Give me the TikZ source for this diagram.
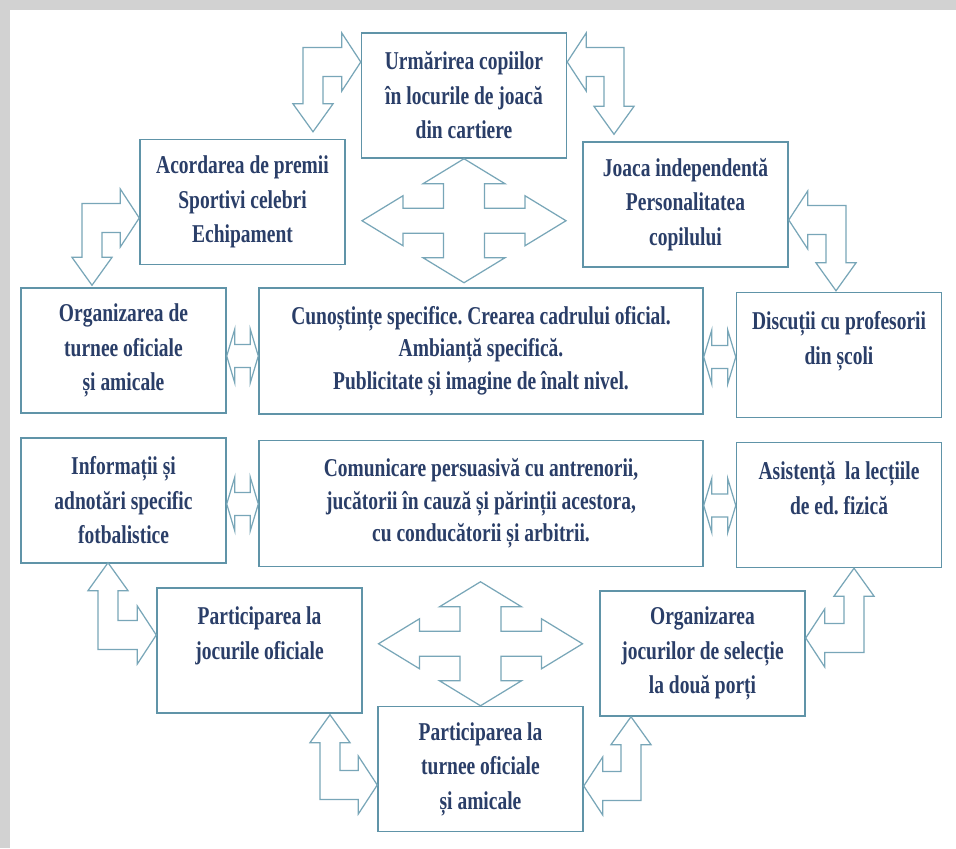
\documentclass[tikz,border=0pt]{standalone}
\usepackage{fontspec}
\setmainfont{Liberation Serif}[FakeStretch=0.76]
\usetikzlibrary{calc}
\frenchspacing

\definecolor{boxline}{RGB}{96,148,168}
\definecolor{arrowline}{RGB}{120,166,184}
\definecolor{boxtext}{RGB}{42,62,104}

% elbow arrow sizes
\def\ewx{5.7pt}\def\ewy{8.2pt}
\def\ehx{11.4pt}\def\ehy{16.5pt}
\def\elx{10.8pt}\def\ely{15.9pt}
% straight double arrow sizes
\def\hw{6.5pt}\def\hh{15.4pt}\def\hl{4.6pt}

\newcommand\elbowarrow[4]{%
	\draw[blockarrow] let \p1=(#1), \p2=(#2) in
		({\x2-(#3)*\ewx},{\y1-(#4)*\ewy}) -- ({\x1-(#3)*\elx},{\y1-(#4)*\ewy})
		-- ({\x1-(#3)*\elx},{\y1-(#4)*\ehy}) -- (\x1,\y1)
		-- ({\x1-(#3)*\elx},{\y1+(#4)*\ehy}) -- ({\x1-(#3)*\elx},{\y1+(#4)*\ewy})
		-- ({\x2+(#3)*\ewx},{\y1+(#4)*\ewy}) -- ({\x2+(#3)*\ewx},{\y2-(#4)*\ely})
		-- ({\x2+(#3)*\ehx},{\y2-(#4)*\ely}) -- (\x2,\y2)
		-- ({\x2-(#3)*\ehx},{\y2-(#4)*\ely}) -- ({\x2-(#3)*\ewx},{\y2-(#4)*\ely})
		-- cycle;
}
\newcommand\hdarrow[2]{%
	\draw[blockarrow] let \p1=(#1), \p2=(#2) in
		(\x1,\y1) -- ({\x1+\hl},{\y1+\hh}) -- ({\x1+\hl},{\y1+\hw})
		-- ({\x2-\hl},{\y1+\hw}) -- ({\x2-\hl},{\y1+\hh}) -- (\x2,\y1)
		-- ({\x2-\hl},{\y1-\hh}) -- ({\x2-\hl},{\y1-\hw})
		-- ({\x1+\hl},{\y1-\hw}) -- ({\x1+\hl},{\y1-\hh}) -- cycle;
}
\newcommand\crossarrow[1]{%
	\draw[blockarrow,shift={(#1)}]
		(0,-62) -- (41,-37) -- (20.5,-37) -- (20.5,-12.5) -- (61,-12.5) -- (61,-25)
		-- (102,0) -- (61,25) -- (61,12.5) -- (20.5,12.5) -- (20.5,37) -- (41,37)
		-- (0,62) -- (-41,37) -- (-20.5,37) -- (-20.5,12.5) -- (-61,12.5) -- (-61,25)
		-- (-102,0) -- (-61,-25) -- (-61,-12.5) -- (-20.5,-12.5) -- (-20.5,-37) -- (-41,-37)
		-- cycle;
}

\begin{document}
\begin{tikzpicture}[
		x=0.02cm, y=-0.02cm,
		box/.style={draw=boxline, line width=0.85pt, align=center, text=boxtext,
				minimum width=4.1cm, minimum height=2.5cm, inner sep=0pt,
				font=\bfseries\fontsize{14.6}{19.6}\selectfont},
		widebox/.style={box, minimum width=8.88cm, minimum height=2.52cm,
				font=\bfseries\fontsize{14.6}{18.6}\selectfont},
		blockarrow/.style={draw=arrowline, line width=0.7pt, line join=miter}
	]
	\useasboundingbox (0,0) rectangle (956,848);
	\fill[gray!35] (0,0) rectangle (956,848);
	\fill[white] (10,10) rectangle (956,848);

	\node[box] (urm) at (464,95.5) {Urmărirea copiilor\\în locurile de joacă\\din cartiere};
	\node[box] (acord) at (242.5,202) {Acordarea de premii\\Sportivi celebri\\Echipament};
	\node[box] (joaca) at (685.5,204.5) {Joaca independentă\\Personalitatea\\copilului};
	\node[box] (org) at (123.5,350.5) {Organizarea de\\turnee oficiale\\și amicale};
	\node[widebox] (cen1) at (481,351) {Cunoștințe specifice. Crearea cadrului oficial.\\Ambianță specifică.\\Publicitate și imagine de înalt nivel.};
	\node[box] (disc) at (839,355) {Discuții cu profesorii\\din școli\\\mbox{}};
	\node[box] (info) at (123.5,500.5) {Informații și\\adnotări specific\\fotbalistice};
	\node[widebox] (cen2) at (481,503.5) {Comunicare persuasivă cu antrenorii,\\jucătorii în cauză și părinții acestora,\\cu conducătorii și arbitrii.};
	\node[box] (asist) at (839,505) {Asistență~ la lecțiile\\de ed. fizică\\\mbox{}};
	\node[box] (part) at (259.5,650.5) {Participarea la\\jocurile oficiale\\\mbox{}};
	\node[box] (turn) at (480.5,769) {Participarea la\\turnee oficiale\\și amicale};
	\node[box] (sel) at (702.5,653.5) {Organizarea\\jocurilor de selecție\\la două porți};

	\coordinate (e1a) at ($(urm.west)+(0,-33.5)$);
	\coordinate (e1b) at ($(acord.north)+(70.5,-7)$);
	\coordinate (e2a) at ($(urm.east)+(0,-33.5)$);
	\coordinate (e2b) at ($(joaca.north)+(-71.5,-7)$);
	\coordinate (e3a) at ($(acord.west)+(0,16)$);
	\coordinate (e3b) at ($(org.north)+(-31.5,-2)$);
	\coordinate (e4a) at ($(joaca.east)+(0,15.5)$);
	\coordinate (e4b) at ($(disc.north)+(-3,-1)$);
	\coordinate (e5a) at ($(part.west)+(0,-15.5)$);
	\coordinate (e5b) at ($(info.south)+(-15.5,-1)$);
	\coordinate (e6a) at ($(turn.west)+(0,16)$);
	\coordinate (e6b) at ($(part.south)+(70.5,1)$);
	\coordinate (e7a) at ($(turn.east)+(0,17)$);
	\coordinate (e7b) at ($(sel.south)+(-71.5,0)$);
	\coordinate (e8a) at ($(sel.east)+(0,-15.5)$);
	\coordinate (e8b) at ($(asist.south)+(15,0)$);

	\elbowarrow{e1a}{e1b}{1}{-1}
	\elbowarrow{e2a}{e2b}{-1}{-1}
	\elbowarrow{e3a}{e3b}{1}{-1}
	\elbowarrow{e4a}{e4b}{-1}{-1}
	\elbowarrow{e5a}{e5b}{1}{1}
	\elbowarrow{e6a}{e6b}{1}{1}
	\elbowarrow{e7a}{e7b}{-1}{1}
	\elbowarrow{e8a}{e8b}{-1}{1}

	\coordinate (h1) at ($(org.east)+(0,5.5)$);
	\coordinate (h2) at ($(cen1.east)+(0,6)$);
	\coordinate (h3) at ($(info.east)+(0,3.5)$);
	\coordinate (h4) at ($(cen2.east)+(0,2)$);
	\hdarrow{h1}{cen1.west}
	\hdarrow{h2}{disc.west}
	\hdarrow{h3}{cen2.west}
	\hdarrow{h4}{asist.west}

	\coordinate (x1) at ($(urm.south)+(0,62)$);
	\coordinate (x2) at ($(turn.north)+(0,-62)$);
	\crossarrow{x1}
	\crossarrow{x2}
\end{tikzpicture}
\end{document}
